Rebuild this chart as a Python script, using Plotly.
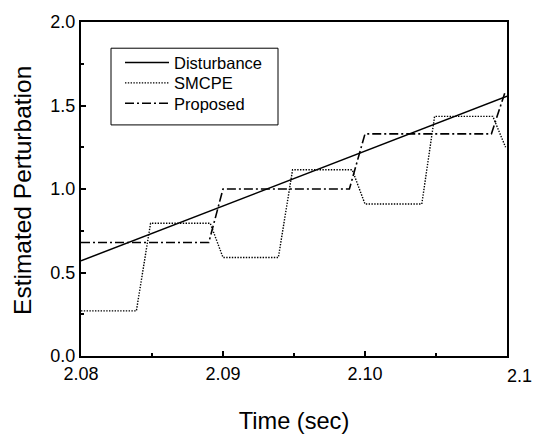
import plotly.graph_objects as go

# Data
dist_t = [2.08, 2.11]
dist_v = [0.57, 1.555]

smcpe_t = [2.08, 2.0839, 2.0849, 2.0891, 2.0900, 2.0939, 2.0949, 2.0991, 2.1000,
           2.1040, 2.1049, 2.1090, 2.1099]
smcpe_v = [0.27, 0.27, 0.795, 0.795, 0.59, 0.59, 1.115, 1.115, 0.91,
           0.91, 1.435, 1.435, 1.25]

prop_t = [2.08, 2.0890, 2.0900, 2.0989, 2.1000, 2.1089, 2.1099]
prop_v = [0.68, 0.68, 1.0, 1.0, 1.33, 1.33, 1.59]

x_tickvals = [2.08, 2.09, 2.10, 2.11]
x_ticktext = ["2.08", "2.09", "2.10", ""]
y_tickvals = [0.0, 0.5, 1.0, 1.5, 2.0]
y_ticktext = ["0.0", "0.5", "1.0", "1.5", "2.0"]

FONT = "Liberation Sans, Arial, sans-serif"

fig = go.Figure()
fig.add_trace(go.Scatter(x=dist_t, y=dist_v, mode="lines", name="Disturbance",
                         line=dict(color="black", width=1.5), legend="legend"))
fig.add_trace(go.Scatter(x=smcpe_t, y=smcpe_v, mode="lines", name="SMCPE",
                         line=dict(color="black", width=1.4, dash="1.4px,1.4px"),
                         legend="legend2"))
fig.add_trace(go.Scatter(x=prop_t, y=prop_v, mode="lines", name="Proposed",
                         line=dict(color="black", width=1.6, dash="9px,3px,2px,3px"),
                         legend="legend3"))

axis_common = dict(
    showgrid=False, zeroline=False, showline=True, linecolor="black", linewidth=2,
    mirror=True, ticks="inside", ticklen=5, tickwidth=1.5, tickcolor="black",
    tickfont=dict(family=FONT, size=18, color="black"),
    minor=dict(ticks="inside", ticklen=3, tickwidth=1.5, tickcolor="black"),
)

fig.update_xaxes(range=[2.08, 2.11], tickvals=x_tickvals, ticktext=x_ticktext,
                 minor_tickvals=[2.085, 2.095, 2.105],
                 title=dict(text="Time (sec)", font=dict(family=FONT, size=23.6, color="black"),
                            standoff=30),
                 **axis_common)
fig.update_yaxes(range=[0, 2.0], tickvals=y_tickvals, ticktext=y_ticktext,
                 minor_tickvals=[0.25, 0.75, 1.25, 1.75],
                 **axis_common)

# y-axis title
fig.add_annotation(x=(23 - 81) / 426, y=(360 - 190) / 344, xref="paper", yref="paper",
                   text="Estimated Perturbation", textangle=-90, showarrow=False,
                   xanchor="center", yanchor="middle",
                   font=dict(family=FONT, size=24.5, color="black"))

fig.add_annotation(x=2.11, y=0, xref="x", yref="y", text="2.1", showarrow=False,
                   xanchor="left", yanchor="top", yshift=-8, xshift=-2,
                   font=dict(family=FONT, size=18, color="black"))

# legend box
fig.add_shape(type="rect", xref="paper", yref="paper",
              x0=(111 - 81) / 426, x1=(278 - 81) / 426,
              y0=(360 - 122) / 344, y1=(360 - 43) / 344,
              line=dict(color="black", width=1), fillcolor="rgba(0,0,0,0)")

def leg(row_y):
    return dict(x=(120 - 81) / 426, y=(360 - row_y) / 344, xanchor="left", yanchor="middle",
                bgcolor="rgba(0,0,0,0)", borderwidth=0,
                font=dict(family=FONT, size=16.5, color="black"),
                itemwidth=44)

fig.update_layout(
    width=540, height=442,
    margin=dict(l=81, r=33, t=16, b=82),
    paper_bgcolor="white", plot_bgcolor="white",
    font=dict(family=FONT, color="black"),
    showlegend=True,
    legend=leg(58), legend2=leg(79), legend3=leg(100),
)

fig.write_html("out.html", config={"displayModeBar": False},
               post_script="document.body.style.margin='0px';")
